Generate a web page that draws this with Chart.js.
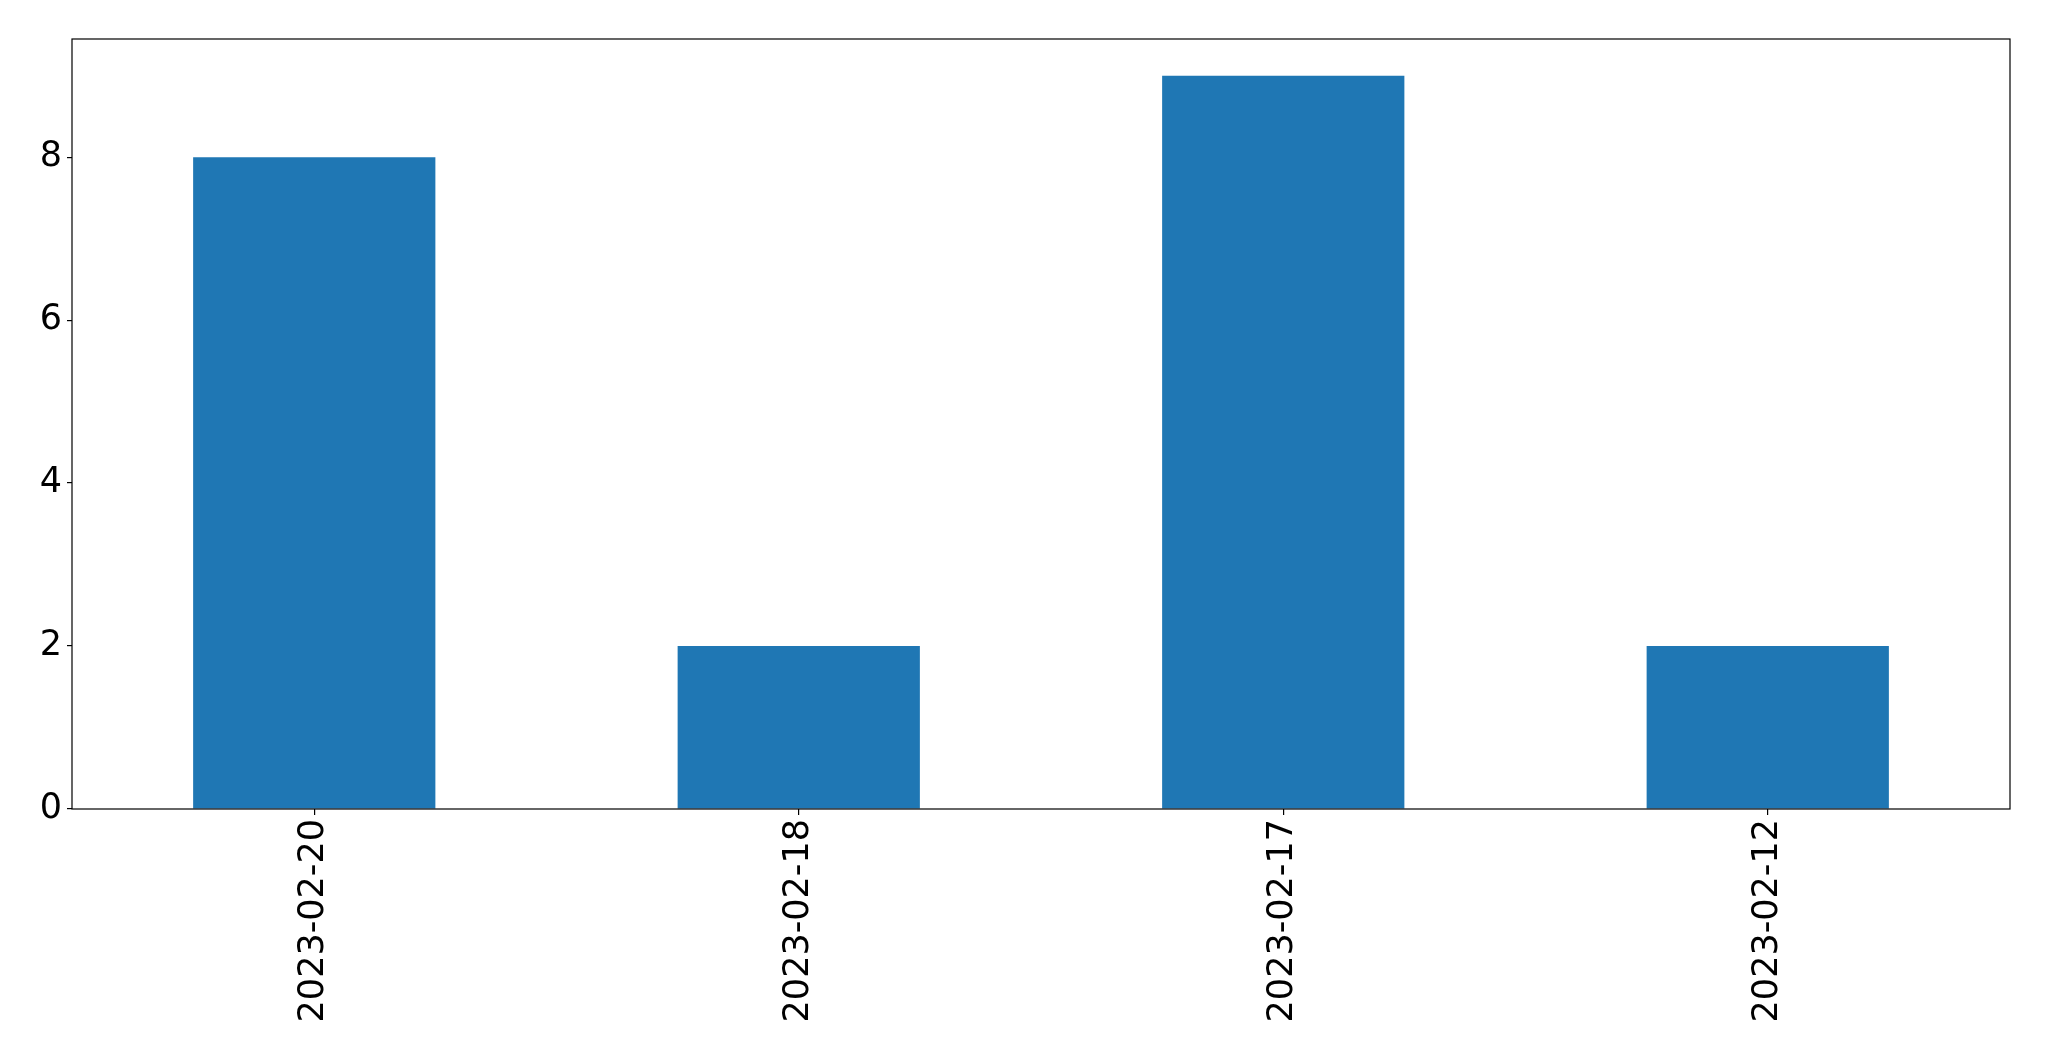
<!DOCTYPE html>
<html>
<head>
<meta charset="utf-8">
<script src="https://cdn.jsdelivr.net/npm/chart.js@4.4.0/dist/chart.umd.min.js"></script>
<style>
  html, body { margin: 0; padding: 0; background: #fff; }
  #wrap { width: 2049px; height: 1061px; }
</style>
</head>
<body>
<div id="wrap"><canvas id="canvas" width="2049" height="1061"></canvas></div>
<script>
// data
const dates = ['2023-02-20', '2023-02-18', '2023-02-17', '2023-02-12'];
const counts = [8, 2, 9, 2];
const yTicks = [0, 2, 4, 6, 8];

// black frame round the plot area, like matplotlib spines
const frame = {
    id: 'frame',
    afterDraw(chart) {
        const a = chart.chartArea;
        const c = chart.ctx;
        c.save();
        c.strokeStyle = '#000';
        c.lineWidth = 1.2;
        c.strokeRect(a.left, a.top, a.right - a.left, a.bottom - a.top);
        c.restore();
    }
};

const ctx = document.getElementById('canvas').getContext('2d');
const myChart = new Chart(ctx, {
    type: 'bar',
    data: {
        labels: dates,
        datasets: [{
            data: counts,
            backgroundColor: '#1f77b4',
            borderWidth: 0,
            barPercentage: 0.5,
            categoryPercentage: 1.0
        }]
    },
    options: {
        responsive: false,
        animation: false,
        layout: { padding: { top: 39, right: 39, left: 0, bottom: 0 } },
        plugins: {
            legend: { display: false },
            tooltip: { enabled: false }
        },
        scales: {
            x: {
                grid: { display: true, drawOnChartArea: false, offset: false, tickLength: 6, color: '#000', lineWidth: 1.2 },
                border: { display: false },
                ticks: {
                    color: '#000',
                    font: { family: 'DejaVu Sans', size: 35 },
                    minRotation: 90,
                    maxRotation: 90,
                    padding: 4
                },
                afterFit(axis) { axis.height = 252; }
            },
            y: {
                min: 0,
                max: 9.45,
                afterBuildTicks(axis) { axis.ticks = yTicks.map(v => ({ value: v })); },
                grid: { display: true, drawOnChartArea: false, tickLength: 5, color: '#000', lineWidth: 1.2 },
                border: { display: false },
                ticks: {
                    color: '#000',
                    font: { family: 'DejaVu Sans', size: 35 },
                    padding: 5
                },
                afterFit(axis) { axis.width = 72; }
            }
        }
    },
    plugins: [frame]
});
</script>
</body>
</html>
